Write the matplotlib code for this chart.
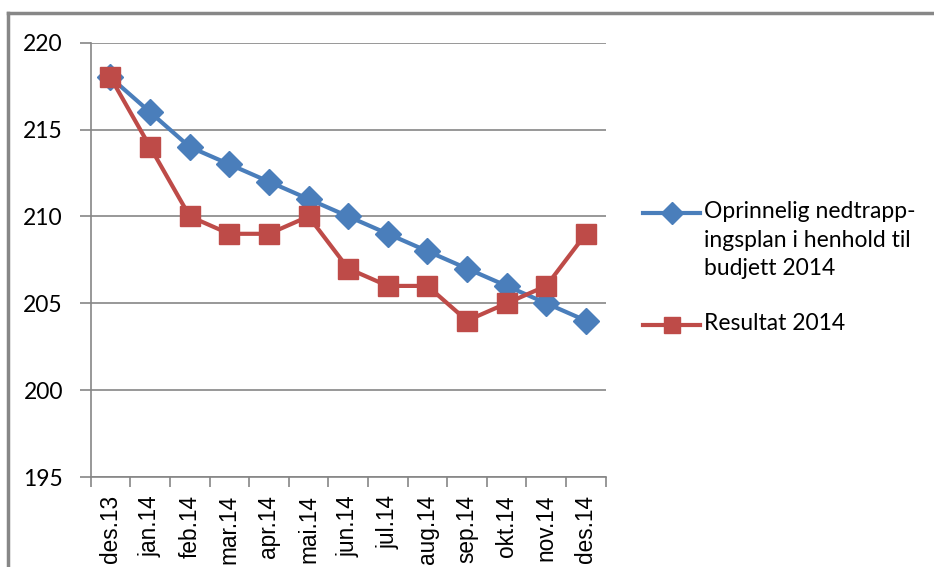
import matplotlib
matplotlib.use('Agg')
import matplotlib.pyplot as plt
from matplotlib.lines import Line2D
import numpy as np

months = ['des.13', 'jan.14', 'feb.14', 'mar.14', 'apr.14', 'mai.14', 'jun.14',
          'jul.14', 'aug.14', 'sep.14', 'okt.14', 'nov.14', 'des.14']
plan = [218, 216, 214, 213, 212, 211, 210, 209, 208, 207, 206, 205, 204]
result = [218, 214, 210, 209, 209, 210, 207, 206, 206, 204, 205, 206, 209]

planLabel = 'Oprinnelig nedtrapp-\ningsplan i henhold til\nbudjett 2014'
resultLabel = 'Resultat 2014'

blue = '#4A7EBB'
red = '#BE4B48'
gridGray = '#868686'
fs = 16.5

plt.rcParams['font.family'] = ['Lato', 'DejaVu Sans']

W, H = 934, 567
fig = plt.figure(figsize=(W / 100, H / 100), dpi=100)
ax = fig.add_axes([0.0971, 0.1587, 0.5514, 0.766])

x = np.arange(len(months))
planStyle = dict(color=blue, lw=3, marker='D', ms=13, mec=blue, mfc=blue)
resultStyle = dict(color=red, lw=3, marker='s', ms=14, mec=red, mfc=red)
ax.plot(x, plan, zorder=3, **planStyle)
ax.plot(x, result, zorder=4, **resultStyle)

ax.set_xlim(-0.5, len(months) - 0.5)
ax.set_ylim(195, 220)
ax.set_yticks(np.arange(195, 221, 5))
ax.yaxis.grid(True, color=gridGray, lw=1.2)
ax.set_axisbelow(True)

# month labels are rendered in an Arial-like face in the original
ax.set_xticks(x)
ax.set_xticklabels(months, rotation=90, fontsize=16.3,
                   family=['Liberation Sans', 'DejaVu Sans'])
ax.set_xticks(np.arange(-0.5, len(months), 1), minor=True)
ax.tick_params(axis='x', which='major', length=0, pad=13)
ax.tick_params(axis='x', which='minor', length=7, width=1.2, color=gridGray)
ax.tick_params(axis='y', length=8, width=1.2, color=gridGray, labelsize=fs, pad=12)

for s in ['top', 'right']:
    ax.spines[s].set_visible(False)
for s in ['left', 'bottom']:
    ax.spines[s].set_color(gridGray)
    ax.spines[s].set_linewidth(1.2)

# legend drawn by hand so the handle sits on the first text line
for label, style, ypix in [(planLabel, planStyle, 213), (resultLabel, resultStyle, 325)]:
    yf = 1 - ypix / H
    fig.add_artist(Line2D([643 / W, 700 / W], [yf, yf], transform=fig.transFigure,
                          color=style['color'], lw=style['lw']))
    fig.add_artist(Line2D([671.5 / W], [yf], transform=fig.transFigure, ls='none',
                          marker=style['marker'], ms=style['ms'] * 0.85,
                          mec=style['color'], mfc=style['color']))
    fig.text(704 / W, yf + 12 / H, label, fontsize=fs, va='top', ha='left',
             linespacing=1.45)

# outer frame (chart area border, cropped)
fig.add_artist(Line2D([8 / W, 8 / W], [0, 1 - 13 / H], color='#878787', lw=2.5,
                      transform=fig.transFigure))
fig.add_artist(Line2D([8 / W, 1], [1 - 13 / H, 1 - 13 / H], color='#878787', lw=2.5,
                      transform=fig.transFigure))

fig.savefig('out.png', dpi=100)
